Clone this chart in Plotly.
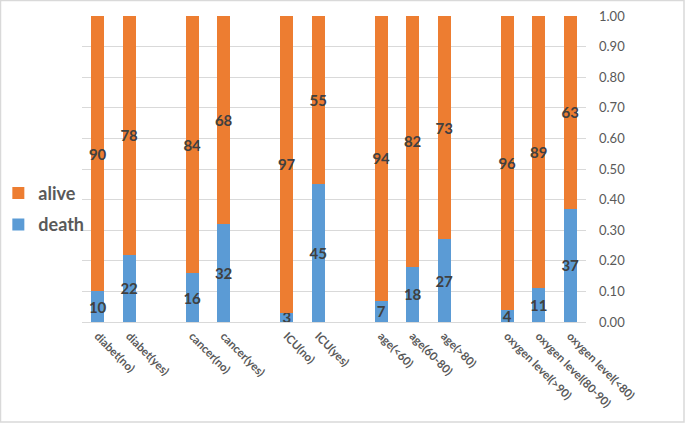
import plotly.graph_objects as go

categories = ["diabet(no)", "diabet(yes)", "cancer(no)", "cancer(yes)", "ICU(no)", "ICU(yes)",
              "age(<60)", "age(60-80)", "age(>80)",
              "oxygen level(>90)", "oxygen level(80-90)", "oxygen level(<80)"]
slots = [0, 1, 3, 4, 6, 7, 9, 10, 11, 13, 14, 15]
death = [10, 22, 16, 32, 3, 45, 7, 18, 27, 4, 11, 37]
alive = [90, 78, 84, 68, 97, 55, 94, 82, 73, 96, 89, 63]

FONT = "Lato"
fig = go.Figure()
for name, vals, color, rank in [("death", death, "#5B9BD5", 2), ("alive", alive, "#ED7D31", 1)]:
    fig.add_trace(go.Bar(
        x=slots, y=vals, name=name, legendgroup=name, legendrank=rank,
        marker=dict(color=color, line=dict(width=0)),
        width=0.4, text=[str(v) for v in vals], textposition="inside",
        insidetextanchor="middle", textangle=0, constraintext="none",
        insidetextfont=dict(family=FONT, size=15, color="#404040", weight="bold"),
        hoverinfo="skip",
    ))

fig.update_layout(
    barmode="stack", barnorm="fraction",
    width=685, height=423,
    margin=dict(l=82, r=99, t=16, b=101, autoexpand=False),
    paper_bgcolor="white", plot_bgcolor="white",
    font=dict(family=FONT, color="#595959"),
    showlegend=True,
    legend=dict(x=-0.166, xanchor="left", y=0.37, yanchor="middle", traceorder="grouped",
                tracegroupgap=5,
                font=dict(family=FONT, size=18, color="#595959", weight="bold"),
                itemwidth=30, bgcolor="rgba(0,0,0,0)"),
    xaxis=dict(range=[-0.5, 15.5], tickmode="array", tickvals=slots, ticktext=categories,
               tickangle=45, showgrid=False, zeroline=False, showline=True, linecolor="#d9d9d9",
               automargin=False, ticklabelstandoff=2,
               ticks="", tickfont=dict(family=FONT, size=11.5, color="#595959", weight="bold")),
    yaxis=dict(range=[0, 1], side="right", dtick=0.1, tickformat=".2f", showgrid=True,
               gridcolor="#d9d9d9", zeroline=False, showline=False, ticks="", automargin=False,
               ticklabelstandoff=12, tickfont=dict(family=FONT, size=13, color="#595959")),
    shapes=[dict(type="rect", xref="paper", yref="paper",
                 x0=(0.5 - 82) / 504, x1=(684 - 82) / 504,
                 y0=-(422 - 322) / 306, y1=(322 - 0.5) / 306,
                 line=dict(color="#d9d9d9", width=1.5), fillcolor="rgba(0,0,0,0)", layer="below")],
)

fig.write_html("out.html", config={"displayModeBar": False},
               post_script="document.body.style.margin='0';")
